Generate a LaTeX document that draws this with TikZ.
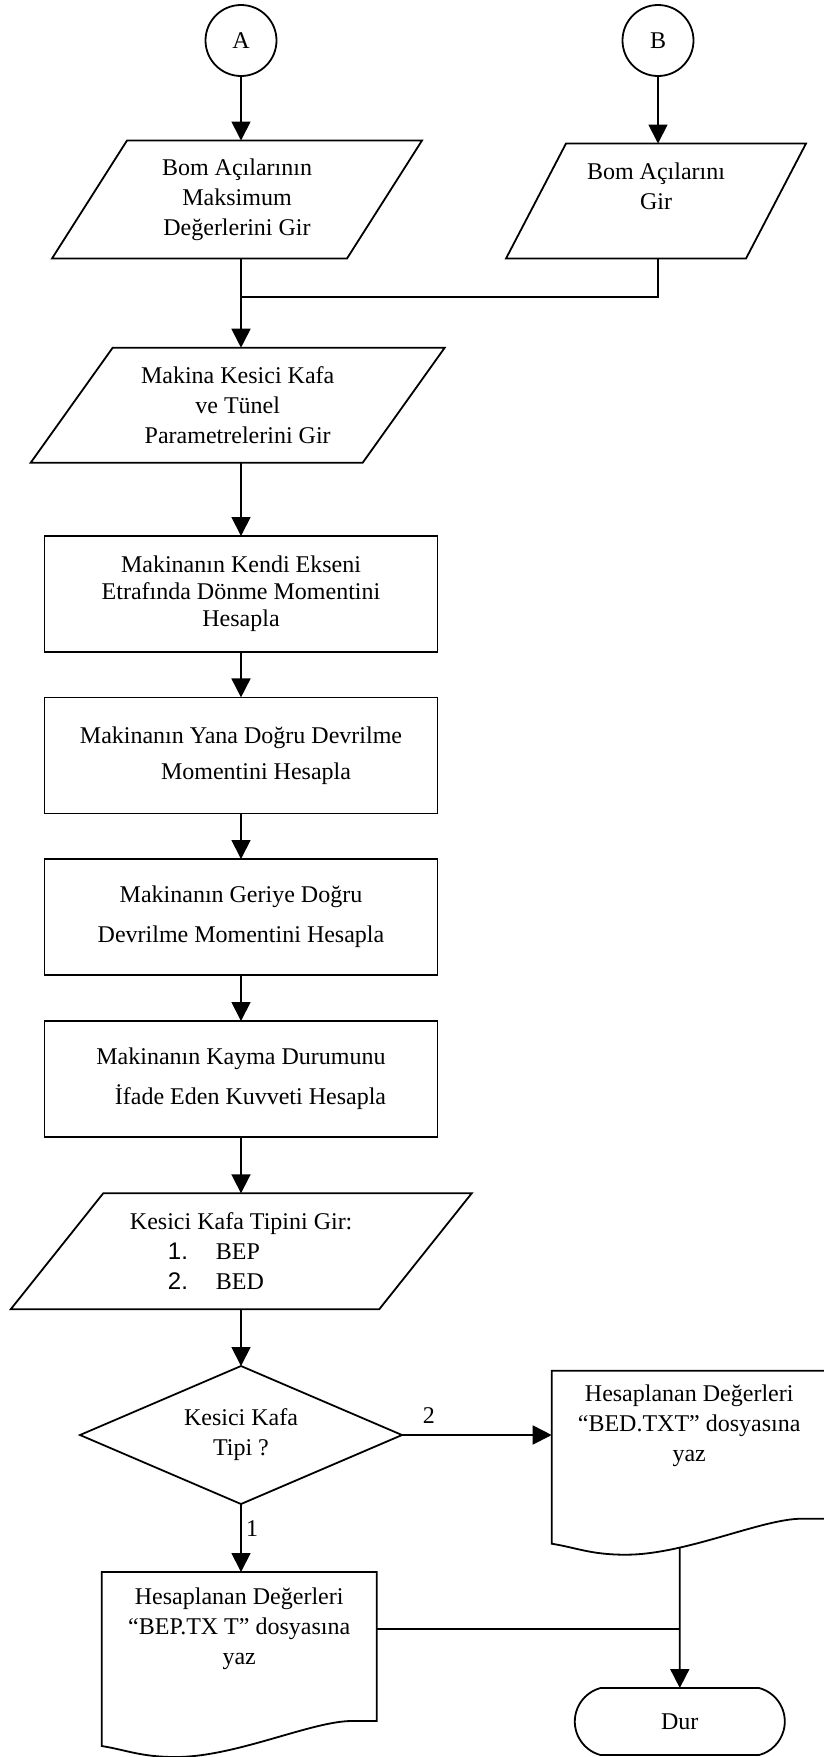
\documentclass[tikz,border=0pt]{standalone}
\usepackage{fontspec}
\setmainfont{Liberation Serif}
\setsansfont{Liberation Sans}
\usetikzlibrary{arrows.meta,shapes.geometric,shapes.misc}
\begin{document}
\begin{tikzpicture}[
  x=1pt, y=-1pt, line width=1.8pt,
  every node/.style = {font=\fontsize{24}{30}\selectfont, align=center, inner sep=0pt, outer sep=0pt},
  pagelink/.style = {shape=circle, draw, minimum size=71pt},
  inputbox/.style = {shape=rectangle, minimum height=116pt},
  procbox/.style = {shape=rectangle, draw, minimum width=393pt, minimum height=116pt},
  docbox/.style = {shape=rectangle, minimum width=275pt},
  decbox/.style = {shape=diamond, draw, aspect=2.33, minimum width=322pt, minimum height=138pt},
  endbox/.style = {shape=rounded rectangle, rounded rectangle arc length=150, draw, minimum width=210pt, minimum height=67pt},
  arrowline/.style = {-{Triangle[length=19pt,width=19pt]}},
  caselabel/.style = {font=\fontsize{24}{30}\selectfont}
]
  \useasboundingbox (0,0) rectangle (824,1757);

  \node[pagelink] (A) at (241,40.5) {A};
  \node[pagelink] (B) at (658,40.5) {B};

  \node[inputbox, minimum width=295pt, minimum height=118pt] (maxin) at (237,199.5)
    {Bom Açılarının\\Maksimum\\Değerlerini Gir};
  \draw ([xshift=37.5pt]maxin.north west) -- ([xshift=37.5pt]maxin.north east)
    -- ([xshift=-37.5pt]maxin.south east) -- ([xshift=-37.5pt]maxin.south west) -- cycle;

  \node[inputbox, minimum width=240pt, minimum height=115pt] (angin) at (656,201)
    {Bom Açılarını\\Gir\\\mbox{}};
  \draw ([xshift=30pt]angin.north west) -- ([xshift=30pt]angin.north east)
    -- ([xshift=-30pt]angin.south east) -- ([xshift=-30pt]angin.south west) -- cycle;

  \coordinate (join) at (241,296.7);

  \node[inputbox, minimum width=332pt, minimum height=115pt] (kafain) at (237.7,405.2)
    {Makina Kesici Kafa\\ve Tünel\\Parametrelerini Gir};
  \draw ([xshift=41pt]kafain.north west) -- ([xshift=41pt]kafain.north east)
    -- ([xshift=-41pt]kafain.south east) -- ([xshift=-41pt]kafain.south west) -- cycle;

  \node[procbox] (rotmom) at (241,594) {Makinanın Kendi Ekseni\\[-3pt]Etrafında Dönme Momentini\\[-3pt]Hesapla};
  \node[procbox] (sidemom) at (241,755.4) {Makinanın Yana Doğru Devrilme\\[6pt]\hspace*{30pt}Momentini Hesapla};
  \node[procbox] (backmom) at (241,917) {Makinanın Geriye Doğru\\[10pt]Devrilme Momentini Hesapla};
  \node[procbox] (slip) at (241,1079) {Makinanın Kayma Durumunu\\[10pt]\hspace*{19pt}İfade Eden Kuvveti Hesapla};

  \node[inputbox, minimum width=368.5pt, align=left] (tipin) at (241.2,1251.3)
    {Kesici Kafa Tipini Gir:\\
     \hspace*{38pt}\makebox[48pt][l]{\sffamily 1.}BEP\\
     \hspace*{38pt}\makebox[48pt][l]{\sffamily 2.}BED};
  \draw ([xshift=46.25pt]tipin.north west) -- ([xshift=46.25pt]tipin.north east)
    -- ([xshift=-46.25pt]tipin.south east) -- ([xshift=-46.25pt]tipin.south west) -- cycle;

  \node[decbox] (dec) at (241,1435) {Kesici Kafa\\Tipi ?};

  \node[docbox, minimum height=114pt] (bep) at (239.2,1629)
    {Hesaplanan Değerleri\\“BEP.TX T” dosyasına\\yaz};
  \draw (bep.north west) -- (bep.north east) -- ++(0,149) -- ++(-25,0)
    .. controls +(-40,0) and +(60,0) .. ++(-176,36)
    .. controls +(-35,0) and +(25,4) .. ++(-74,-11) -- cycle;

  \node[docbox, minimum height=110.6pt] (bed) at (689.2,1426)
    {Hesaplanan Değerleri\\“BED.TXT” dosyasına\\yaz};
  \draw (bed.north west) -- (bed.north east) -- ++(0,148) -- ++(-25,0)
    .. controls +(-40,0) and +(60,0) .. ++(-176,36)
    .. controls +(-35,0) and +(25,4) .. ++(-74,-11) -- cycle;

  \node[endbox] (dur) at (679.8,1721.5) {Dur};
  \coordinate (bedfoot) at (679.8,1547);

  \draw[arrowline] (A) -- (A |- maxin.north);
  \draw[arrowline] (B) -- (B |- angin.north);
  \draw (maxin.south -| A) -- (join);
  \draw (angin.south -| B) |- (join);
  \draw[arrowline] (join) -- (join |- kafain.north);
  \draw[arrowline] (kafain.south -| rotmom) -- (rotmom);
  \draw[arrowline] (rotmom) -- (sidemom);
  \draw[arrowline] (sidemom) -- (backmom);
  \draw[arrowline] (backmom) -- (slip);
  \draw[arrowline] (slip) -- (slip |- tipin.north);
  \draw[arrowline] (tipin.south -| dec) -- (dec);
  \draw[arrowline] (dec) -- node[caselabel, right=5pt, pos=0.36] {1} (dec |- bep.north);
  \draw[arrowline] (dec) -- node[caselabel, above=12pt, pos=0.18] {2} (dec -| bed.west);
  \draw (bep.east) -- (bep.east -| bedfoot);
  \draw[arrowline] (bedfoot) -- (dur);
\end{tikzpicture}
\end{document}
